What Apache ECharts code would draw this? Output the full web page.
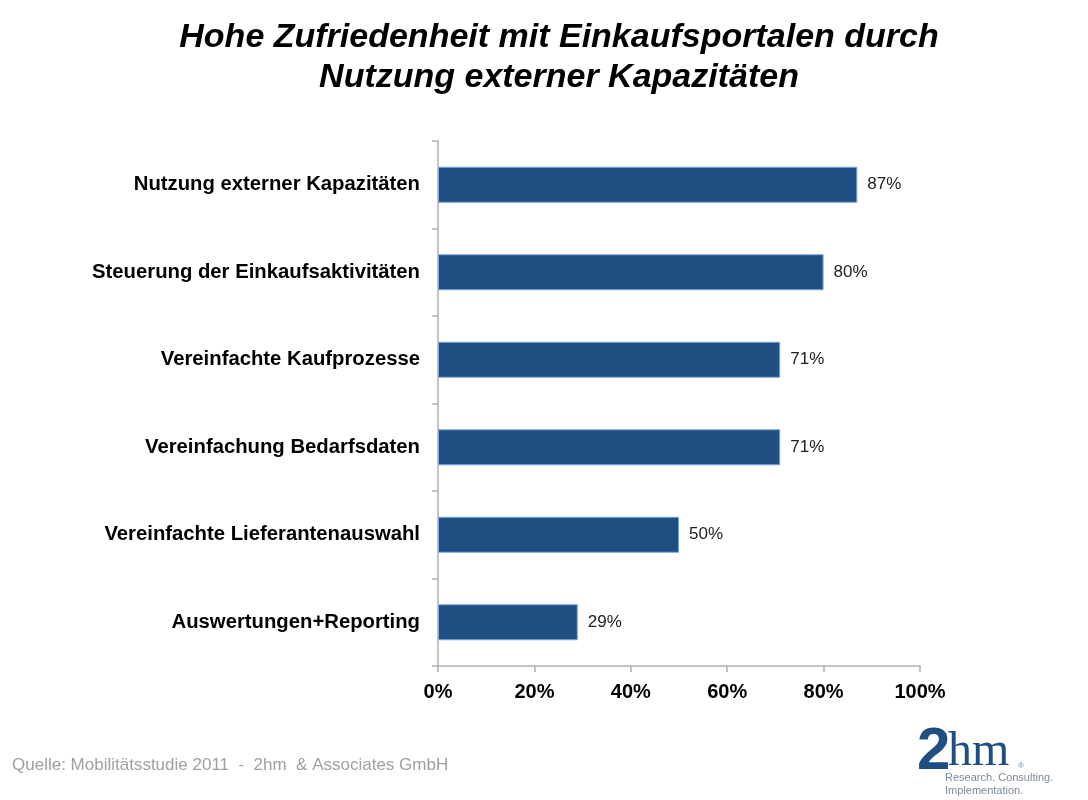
<!DOCTYPE html>
<html><head><meta charset="utf-8">
<script src="https://cdn.jsdelivr.net/npm/echarts@6/dist/echarts.min.js"></script>
<style>html,body{margin:0;padding:0;background:#fff}#c{width:1088px;height:800px}</style>
</head><body><div id="c"></div>
<script>
const categories = ["Nutzung externer Kapazitäten","Steuerung der Einkaufsaktivitäten","Vereinfachte Kaufprozesse","Vereinfachung Bedarfsdaten","Vereinfachte Lieferantenauswahl","Auswertungen+Reporting"];
const values = [87, 80, 71, 71, 50, 29];
const xTicks = [0, 20, 40, 60, 80, 100];
const titleLines = ["Hohe Zufriedenheit mit Einkaufsportalen durch", "Nutzung externer Kapazitäten"];
const sourceText = "Quelle: Mobilitätsstudie 2011  -  2hm  & Associates GmbH";

const chart = echarts.init(document.getElementById('c'));
chart.setOption({
  backgroundColor: '#fff',
  animation: false,
  title: {
    text: titleLines.join('\n'),
    left: 554, top: 13, textAlign: 'center',
    textStyle: { fontFamily: '"Liberation Sans Narrow","Liberation Sans",Arial,sans-serif', fontSize: 34, fontWeight: 'bold', fontStyle: 'italic', color: '#000', lineHeight: 40 }
  },
  grid: { left: 438, right: 168, top: 141, bottom: 134, containLabel: false },
  xAxis: {
    type: 'value', min: xTicks[0], max: xTicks[xTicks.length-1], interval: 20,
    axisLine: { show: true, lineStyle: { color: '#b0b0b0', width: 1.5 } },
    axisTick: { show: true, length: 6, lineStyle: { color: '#b0b0b0', width: 1.5 } },
    splitLine: { show: false },
    axisLabel: { formatter: '{value}%', color: '#000', fontFamily: '"Liberation Sans",Arial,sans-serif', fontSize: 20, fontWeight: 'bold', margin: 16 }
  },
  yAxis: {
    type: 'category', data: categories, inverse: true,
    axisLine: { show: true, lineStyle: { color: '#b0b0b0', width: 1.5 } },
    axisTick: { show: true, length: 6, inside: false, lineStyle: { color: '#b0b0b0', width: 1.5 } },
    axisLabel: { color: '#000', fontFamily: '"Liberation Sans",Arial,sans-serif', fontSize: 20.3, fontWeight: 'bold', margin: 18 }
  },
  series: [{
    type: 'bar', data: values, barWidth: 36,
    itemStyle: { color: '#1f4e83', borderColor: '#7ea6d6', borderWidth: 1 },
    label: { show: true, position: 'right', distance: 10, formatter: '{c}%', color: '#222', fontFamily: '"Liberation Sans",Arial,sans-serif', fontSize: 17 }
  }],
  graphic: [
    { type: 'text', left: 12, top: 757, style: { text: sourceText, fill: '#a0a0a0', font: '17px "Liberation Sans",Arial,sans-serif' } },
    { type: 'text', left: 917, top: 722, style: { text: '2', fill: '#1f4e83', font: 'bold 60px "Liberation Sans",Arial,sans-serif' } },
    { type: 'text', left: 948, top: 728, style: { text: 'hm', fill: '#1f4e83', font: '48px "Liberation Serif","Times New Roman",serif' } },
    { type: 'text', left: 1018, top: 762, style: { text: '®', fill: '#6f8fb6', font: '8px "Liberation Sans",Arial,sans-serif' } },
    { type: 'text', left: 945, top: 771, style: { text: 'Research. Consulting.\nImplementation.', fill: '#7d8a99', font: '11px "Liberation Sans Narrow","Liberation Sans",Arial,sans-serif', lineHeight: 13 } }
  ]
});
</script></body></html>
